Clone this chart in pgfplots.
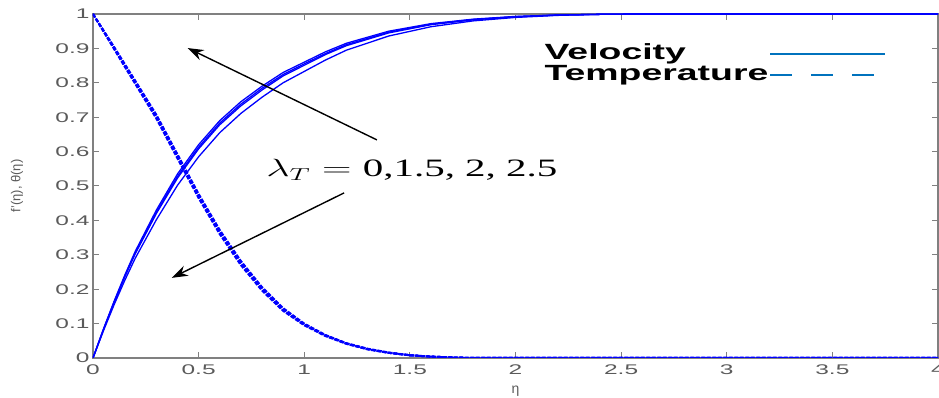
\documentclass[border=0pt]{standalone}
\usepackage{pgfplots}
\usepackage{pgfplotstable}
\pgfplotsset{compat=1.18}
\usepackage{fontspec}
\setmainfont{Liberation Sans}
\newfontfamily\seriffont{Liberation Serif}
\newfontfamily\tickfont[FakeStretch=1.75]{Liberation Sans}
\newfontfamily\legfont[FakeStretch=1.7]{Liberation Sans Bold}
\usetikzlibrary{arrows.meta}
\definecolor{mlblue}{RGB}{0,114,189}
\definecolor{axgray}{RGB}{128,128,128}
\definecolor{tkgray}{RGB}{90,90,90}

\pgfplotstableread{
eta v0 v1 v2 v3
0 0 0 0 0
0.05 0.080 0.083 0.084 0.085
0.1 0.155 0.161 0.163 0.165
0.15 0.225 0.235 0.237 0.240
0.2 0.290 0.303 0.306 0.310
0.3 0.402 0.420 0.424 0.430
0.4 0.502 0.523 0.528 0.535
0.5 0.585 0.608 0.613 0.620
0.6 0.655 0.678 0.683 0.690
0.7 0.711 0.733 0.738 0.745
0.8 0.758 0.779 0.784 0.790
0.9 0.800 0.820 0.824 0.830
1.0 0.833 0.851 0.855 0.860
1.1 0.866 0.882 0.885 0.890
1.2 0.895 0.908 0.911 0.915
1.4 0.936 0.945 0.947 0.950
1.6 0.963 0.969 0.970 0.972
1.8 0.980 0.983 0.984 0.985
2.0 0.990 0.992 0.992 0.993
2.2 0.996 0.997 0.997 0.997
2.4 0.999 0.999 0.999 0.999
2.6 1 1 1 1
4 1 1 1 1
}\veltable

\pgfplotstableread{
eta t0 t1 t2 t3
0 1 1 1 1
0.05 0.952 0.951 0.950 0.949
0.1 0.904 0.902 0.900 0.898
0.15 0.855 0.852 0.850 0.847
0.2 0.806 0.803 0.800 0.797
0.3 0.707 0.703 0.700 0.696
0.4 0.592 0.588 0.585 0.580
0.5 0.477 0.473 0.470 0.465
0.6 0.372 0.368 0.365 0.360
0.7 0.282 0.278 0.275 0.270
0.8 0.206 0.203 0.200 0.196
0.9 0.145 0.142 0.140 0.137
1.0 0.100 0.098 0.097 0.095
1.1 0.067 0.066 0.065 0.064
1.2 0.043 0.042 0.042 0.041
1.3 0.027 0.026 0.026 0.025
1.4 0.016 0.015 0.015 0.015
1.5 0.008 0.008 0.008 0.008
1.6 0.004 0.004 0.004 0.004
1.7 0.0015 0.0015 0.0015 0.0015
1.8 0 0 0 0
4 0 0 0 0
}\temptable

\begin{document}
\begin{tikzpicture}
\begin{axis}[
  at={(0pt,0pt)}, anchor=south west,
  scale only axis,
  width=845pt, height=344pt,
  xmin=0, xmax=4, ymin=0, ymax=1,
  xtick={0,0.5,1,1.5,2,2.5,3,3.5,4},
  ytick={0,0.1,0.2,0.3,0.4,0.5,0.6,0.7,0.8,0.9,1},
  xticklabels={0,0.5,1,1.5,2,2.5,3,3.5,4},
  yticklabels={0,0.1,0.2,0.3,0.4,0.5,0.6,0.7,0.8,0.9,1},
  /pgf/number format/assume math mode=true,
  tick label style={font=\tickfont\fontsize{14}{16}\selectfont, text=tkgray},
  xticklabel style={yshift=-3pt},
  major tick length=6pt,
  tick style={axgray, line width=1pt},
  axis line style={axgray, line width=1.2pt},
  every axis x label/.style={at={(axis description cs:0.5,0)}, yshift=-33pt, anchor=center},
  every axis y label/.style={at={(axis description cs:0,0.5)}, xshift=-76pt, rotate=90, anchor=center},
  xlabel={\fontsize{14}{16}\selectfont\color{tkgray}η},
  ylabel={\fontsize{13}{15}\selectfont\color{tkgray}f'(η), θ(η)},
  legend plot pos=right,
  legend cell align=left,
  legend style={at={(rel axis cs:0.533,0.914)}, anchor=north west, draw=none, fill=none,
    inner sep=0pt, row sep=0pt,
    nodes={inner sep=1pt, text height=15pt, text depth=4pt, font=\legfont\fontsize{22}{23}\selectfont}},
  legend image code/.code={\draw[#1] (10pt,0pt) -- (125pt,0pt);},
]
\addlegendimage{mlblue, line width=2pt}
\addlegendentry{Velocity}
\addlegendimage{mlblue, line width=2pt, dash pattern=on 22pt off 19pt}
\addlegendentry{Temperature}

\addplot[blue, line width=1.3pt, forget plot] table[x=eta, y=v0] {\veltable};
\addplot[blue, line width=1.3pt, forget plot] table[x=eta, y=v1] {\veltable};
\addplot[blue, line width=1.3pt, forget plot] table[x=eta, y=v2] {\veltable};
\addplot[blue, line width=1.3pt, forget plot] table[x=eta, y=v3] {\veltable};

\addplot[blue, line width=2pt, dash pattern=on 4pt off 1.5pt, forget plot] table[x=eta, y=t0] {\temptable};
\addplot[blue, line width=2pt, dash pattern=on 4pt off 1.5pt, forget plot] table[x=eta, y=t1] {\temptable};
\addplot[blue, line width=2pt, dash pattern=on 4pt off 1.5pt, forget plot] table[x=eta, y=t2] {\temptable};
\addplot[blue, line width=2pt, dash pattern=on 4pt off 1.5pt, forget plot] table[x=eta, y=t3] {\temptable};

\draw[-{Stealth[length=16pt,width=11pt]}, line width=1.4pt] (axis cs:1.344,0.634) -- (axis cs:0.448,0.901);
\draw[-{Stealth[length=16pt,width=11pt]}, line width=1.4pt] (axis cs:1.189,0.480) -- (axis cs:0.373,0.233);
\node[anchor=center] at (axis cs:1.51,0.547) {\scalebox{1.64}[1]{\fontsize{25}{30}\selectfont $\lambda_T =$ {\seriffont 0,1.5, 2, 2.5}}};
\end{axis}
\pgfresetboundingbox
\useasboundingbox (-93pt,-40pt) rectangle (846pt,358pt);
\end{tikzpicture}
\end{document}
